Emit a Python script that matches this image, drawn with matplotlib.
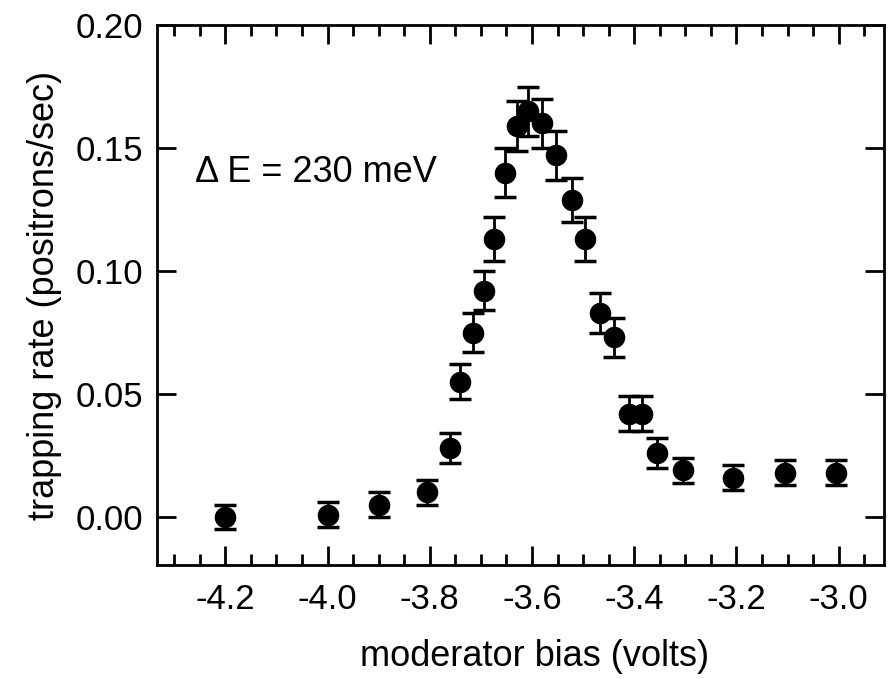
import matplotlib.pyplot as plt
from matplotlib.ticker import MultipleLocator

plt.rcParams['font.family'] = ['Liberation Sans', 'DejaVu Sans']

# moderator bias (volts), trapping rate (positrons/sec) and error bars
bias = [-4.20, -4.00, -3.90, -3.805, -3.76, -3.74, -3.716, -3.694, -3.675, -3.653,
        -3.63, -3.608, -3.58, -3.553, -3.522, -3.497, -3.467, -3.44, -3.411, -3.384,
        -3.356, -3.305, -3.206, -3.106, -3.005]
rate = [0.000, 0.001, 0.005, 0.010, 0.028, 0.055, 0.075, 0.092, 0.113, 0.140,
        0.159, 0.165, 0.160, 0.147, 0.129, 0.113, 0.083, 0.073, 0.042, 0.042,
        0.026, 0.019, 0.016, 0.018, 0.018]
err = [0.005, 0.005, 0.005, 0.005, 0.006, 0.007, 0.008, 0.008, 0.009, 0.010,
       0.010, 0.010, 0.010, 0.010, 0.009, 0.009, 0.008, 0.008, 0.007, 0.007,
       0.006, 0.005, 0.005, 0.005, 0.005]

fig = plt.figure(figsize=(8.89, 6.79), dpi=100)
ax = fig.add_axes([0.177, 0.168, 0.817, 0.795])

ax.errorbar(bias, rate, yerr=err, fmt='o', color='black', markersize=14.5,
            capsize=8, capthick=2.5, elinewidth=2)

ax.set_xlim(-4.333, -2.912)
ax.set_ylim(-0.0195, 0.2)
ax.xaxis.set_major_locator(MultipleLocator(0.2))
ax.xaxis.set_minor_locator(MultipleLocator(0.05))
ax.yaxis.set_major_locator(MultipleLocator(0.05))
ax.yaxis.set_major_formatter(plt.FuncFormatter(lambda v, p: f'{v:.2f}'))
ax.xaxis.set_major_formatter(plt.FuncFormatter(lambda v, p: f'{v:.1f}'))

ax.tick_params(which='both', direction='in', top=True, right=True, width=2)
ax.tick_params(which='major', length=14, labelsize=25)
ax.tick_params(axis='x', which='major', pad=13)
ax.tick_params(axis='y', which='major', pad=10)
ax.tick_params(which='minor', length=8)
for s in ax.spines.values():
    s.set_linewidth(2)

ax.text(-4.26, 0.140, 'Δ E = 230 meV', fontsize=26, va='center', ha='left')

ax.set_xlabel('moderator bias (volts)', fontsize=26, va='center')
ax.set_ylabel('trapping rate (positrons/sec)', fontsize=26)
ax.xaxis.set_label_coords(0.52, -0.17)
ax.yaxis.set_label_coords(-0.131, 0.5)

plt.savefig('out.png', dpi=100)
